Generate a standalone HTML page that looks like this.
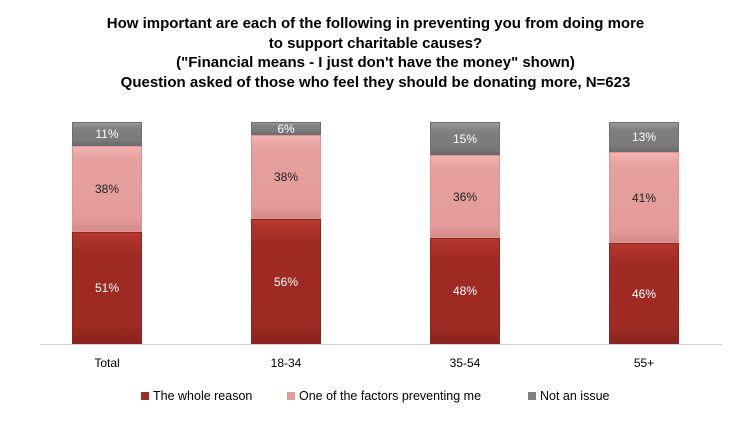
<!DOCTYPE html>
<html><head><style>
body{margin:0;width:751px;height:421px;background:#fff;font-family:"Liberation Sans",Arial,sans-serif;position:relative;overflow:hidden}
.t{position:absolute;left:0;width:751px;text-align:center;font-weight:bold;font-size:15px;color:#000;line-height:19.5px;top:14px}
.seg{position:absolute;box-sizing:border-box;display:flex;align-items:center;justify-content:center;font-size:12px}
.r{background:linear-gradient(#b5382f,#a02a24 20%,#9e2a24 85%,#8a221d);color:#fff;border:1px solid #8e2520}
.p{background:linear-gradient(#f2b3b1,#e6a09e 15%,#e39c9a 85%,#d58a88);color:#222;border:1px solid #d99694}
.g{background:linear-gradient(#9a9a9a,#808080 25%,#7a7a7a 80%,#6a6a6a);color:#fff;border:1px solid #6e6e6e}
.x{position:absolute;top:356px;font-size:12px;width:100px;text-align:center}
.lg{position:absolute;top:389px;font-size:12.5px;display:flex;align-items:center}
.lg i{display:inline-block;width:8px;height:8px;margin-right:4px}
</style></head><body>
<div class="t">How important are each of the following in preventing you from doing more<br>to support charitable causes?<br>("Financial means - I just don't have the money" shown)<br>Question asked of those who feel they should be donating more, N=623</div>
<div style="position:absolute;left:40px;top:344px;width:682px;height:1px;background:#d0d0d0"></div>

<div class="seg g" style="left:72px;top:122px;width:70px;height:24px">11%</div>
<div class="seg p" style="left:72px;top:146px;width:70px;height:86px">38%</div>
<div class="seg r" style="left:72px;top:232px;width:70px;height:112px">51%</div>

<div class="seg g" style="left:251px;top:122px;width:70px;height:13px">6%</div>
<div class="seg p" style="left:251px;top:135px;width:70px;height:84px">38%</div>
<div class="seg r" style="left:251px;top:219px;width:70px;height:125px">56%</div>

<div class="seg g" style="left:430px;top:122px;width:70px;height:33px">15%</div>
<div class="seg p" style="left:430px;top:155px;width:70px;height:83px">36%</div>
<div class="seg r" style="left:430px;top:238px;width:70px;height:106px">48%</div>

<div class="seg g" style="left:609px;top:122px;width:70px;height:30px">13%</div>
<div class="seg p" style="left:609px;top:152px;width:70px;height:91px">41%</div>
<div class="seg r" style="left:609px;top:243px;width:70px;height:101px">46%</div>

<div class="x" style="left:57px">Total</div>
<div class="x" style="left:236px">18-34</div>
<div class="x" style="left:415px">35-54</div>
<div class="x" style="left:594px">55+</div>

<div class="lg" style="left:141px"><i style="background:#9e2a24"></i>The whole reason</div>
<div class="lg" style="left:287px"><i style="background:#e39c9a"></i>One of the factors preventing me</div>
<div class="lg" style="left:528px"><i style="background:#808080"></i>Not an issue</div>
</body></html>
